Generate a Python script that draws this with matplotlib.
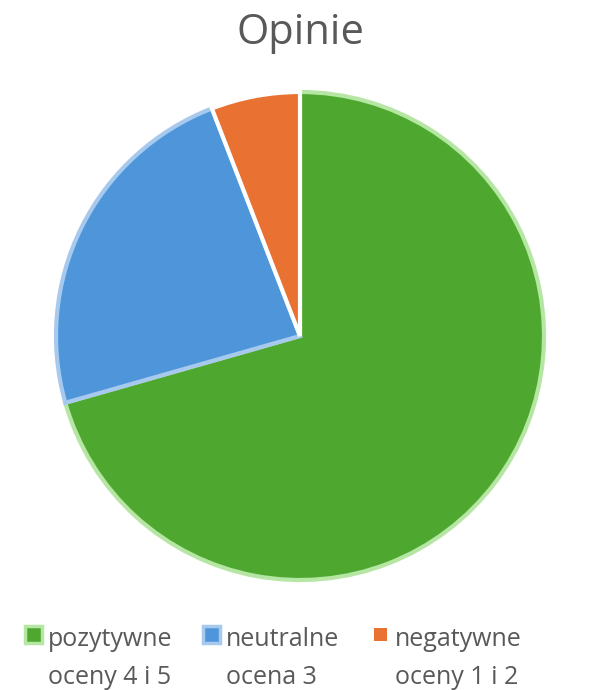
import matplotlib.pyplot as plt
from matplotlib.patches import Rectangle

# data
labels = ['pozytywne\noceny 4 i 5', 'neutralne\nocena 3', 'negatywne\noceny 1 i 2']
values = [12, 4, 1]
colors = ['#4ea72e', '#4e95d9', '#e97132']
edges = ['#b5e6a3', '#a8c9ee', '#ffffff']
title = 'Opinie'

plt.rcParams['font.family'] = ['Open Sans', 'DejaVu Sans']
txt = '#595959'

W, H = 589, 690
fig = plt.figure(figsize=(W / 100, H / 100), dpi=100, facecolor='w')

# pie area: center (300, 336), radius 244 px
cx, cy, r = 300, 336, 244
ax = fig.add_axes([(cx - r) / W, (H - cy - r) / H, 2 * r / W, 2 * r / H])
wedges, _ = ax.pie(values, colors=colors, startangle=90, counterclock=False,
                   radius=1, wedgeprops=dict(linewidth=3))
for w, ec in zip(wedges, edges):
    w.set_edgecolor(ec)
    w.set_clip_on(False)
ax.set_xlim(-1, 1)
ax.set_ylim(-1, 1)
ax.set_aspect('equal')
ax.axis('off')

fig.text(cx / W, 1 - 33 / H, title, ha='center', va='center', fontsize=30, color=txt)

# legend, drawn by hand so the marker sits on the first line
leg_x = [25, 203, 372]
for x, lab, c, ec in zip(leg_x, labels, colors, edges):
    big = ec != '#ffffff'
    s = 17 if big else 13
    y0 = 634.5
    fig.add_artist(Rectangle(((x + (0 if big else 2)) / W, 1 - (y0 + s / 2) / H),
                             s / W, s / H, transform=fig.transFigure,
                             facecolor=c, edgecolor=ec, linewidth=2.5 if big else 0))
    l1, l2 = lab.split('\n')
    tx = x + 23
    fig.text(tx / W, 1 - 646 / H, l1, ha='left', va='baseline', fontsize=18, color=txt)
    fig.text(tx / W, 1 - 684 / H, l2, ha='left', va='baseline', fontsize=18, color=txt)

fig.savefig('out.png', dpi=100, facecolor='w')
